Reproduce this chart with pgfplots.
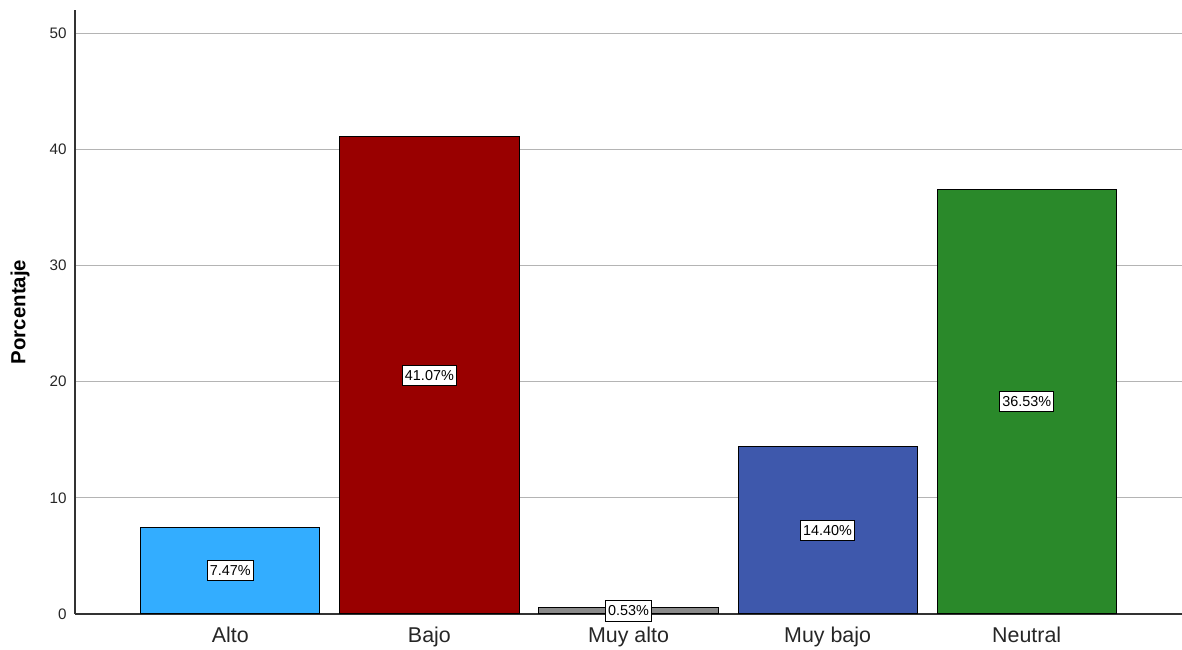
\documentclass[border=0pt]{standalone}
\usepackage{pgfplots}
\pgfplotsset{compat=1.18}
\usepackage{fontspec}
\setmainfont{Liberation Sans}
\definecolor{cAlto}{HTML}{33ADFF}
\definecolor{cBajo}{HTML}{990000}
\definecolor{cMuyAlto}{HTML}{8A8A8A}
\definecolor{cMuyBajo}{HTML}{3E58AC}
\definecolor{cNeutral}{HTML}{2A892A}
\definecolor{gridc}{HTML}{B4B4B4}
\definecolor{axc}{HTML}{333333}
\begin{document}
\begin{tikzpicture}
\begin{axis}[
  scale only axis,
  width=553.5pt, height=302pt,
  xmin=-0.78, xmax=4.78,
  ymin=0, ymax=52,
  axis x line*=bottom, axis y line*=left,
  axis line style={draw=axc, line width=0.7pt},
  xtick={0,1,2,3,4},
  xticklabels={Alto,Bajo,Muy alto,Muy bajo,Neutral},
  ytick={0,10,20,30,40,50},
  major tick length=0pt,
  ymajorgrids,
  grid style={draw=gridc, line width=0.6pt},
  xticklabel style={font=\fontsize{10.7pt}{12pt}\selectfont, anchor=base, yshift=-14.5pt, text=black!85},
  yticklabel style={font=\fontsize{7.6pt}{9pt}\selectfont, anchor=east, inner sep=0pt, xshift=-4pt, text=black!85},
  /pgf/number format/assume math mode=true,
  ylabel={\textbf{Porcentaje}},
  ylabel style={font=\fontsize{10.2pt}{12pt}\selectfont, at={(axis description cs:0,0.5)}, anchor=center, yshift=27.5pt},
  ybar, bar width=0.9, bar shift=0pt,
  every axis plot/.append style={draw=black, line width=0.5pt},
  clip=false,
]
\addplot[fill=cAlto] coordinates {(0,7.47)};
\addplot[fill=cBajo] coordinates {(1,41.07)};
\addplot[fill=cMuyAlto] coordinates {(2,0.53)};
\addplot[fill=cMuyBajo] coordinates {(3,14.40)};
\addplot[fill=cNeutral] coordinates {(4,36.53)};
\addplot[draw=none, fill=none, mark=none, sharp plot,
  nodes near coords, point meta=explicit symbolic,
  nodes near coords align={center},
  every node near coord/.style={anchor=center, draw=black, line width=0.5pt, fill=white, text=black, font=\fontsize{7.2pt}{9pt}\selectfont, inner xsep=1.2pt, inner ysep=2.5pt}]
  table[meta=label] {
x y label
0 3.735 7.47\%
1 20.535 41.07\%
2 0.265 0.53\%
3 7.20 14.40\%
4 18.265 36.53\%
};
\coordinate (ll) at (rel axis cs:0,0);
\coordinate (ur) at (rel axis cs:1,1);
\end{axis}
\pgfresetboundingbox
\path ([xshift=-37.5pt,yshift=-18pt]ll) rectangle ([yshift=5pt]ur);
\end{tikzpicture}
\end{document}
